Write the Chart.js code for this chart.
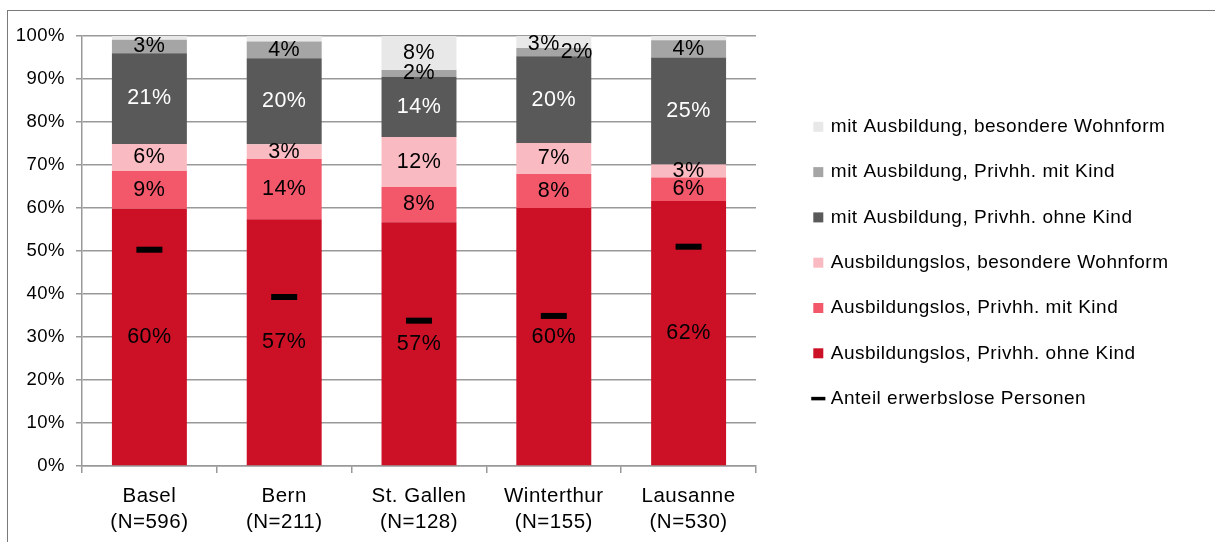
<!DOCTYPE html>
<html>
<head>
<meta charset="utf-8">
<script src="https://cdn.jsdelivr.net/npm/chart.js@4.4.1/dist/chart.umd.min.js"></script>
<style>
  body { margin: 0; background: #fff; }
  #frame {
    position: absolute; left: 7px; top: 10px;
    width: 1208px; height: 532px;
    border-top: 1px solid #7a7a7a; border-left: 1px solid #7a7a7a;
  }
  #wrap { position: absolute; left: 0; top: 0; width: 1207px; height: 531px; }
</style>
</head>
<body>
<div id="frame"><div id="wrap"><canvas id="chart"></canvas></div></div>
<script>
// data
const cities = [["Basel", "(N=596)"], ["Bern", "(N=211)"], ["St. Gallen", "(N=128)"], ["Winterthur", "(N=155)"], ["Lausanne", "(N=530)"]];

const seriesNames = [
  "Ausbildungslos, Privhh. ohne Kind",
  "Ausbildungslos, Privhh. mit Kind",
  "Ausbildungslos, besondere Wohnform",
  "mit Ausbildung, Privhh. ohne Kind",
  "mit Ausbildung, Privhh. mit Kind",
  "mit Ausbildung, besondere Wohnform"
];
const lohneKind = [59.8, 57.4, 56.7, 60.0, 61.6];
const lmitKind  = [8.8, 14.0, 8.2, 7.9, 5.5];
const lbesonder = [6.3, 3.4, 11.6, 7.2, 3.0];
const mohneKind = [21.1, 20.0, 14.0, 20.2, 24.9];
const mmitKind  = [3.1, 3.9, 1.6, 1.9, 4.0];
const mbesonder = [0.9, 1.3, 7.9, 2.8, 1.0];
const erwerbslos = [50.3, 39.3, 33.8, 34.9, 51.0];
const lineName = "Anteil erwerbslose Personen";

const yTicks = [0, 10, 20, 30, 40, 50, 60, 70, 80, 90, 100];

const barColors = ["#cc1127", "#f2576a", "#f9bac1", "#595959", "#a5a5a5", "#e8e8e8"];
const labelColors = ["#000", "#000", "#000", "#fff", "#000", "#000"];
const FONT = "'Liberation Sans', Arial, sans-serif";

const barData = [lohneKind, lmitKind, lbesonder, mohneKind, mmitKind, mbesonder];

const datasets = barData.map((vals, i) => ({
  type: "bar",
  label: seriesNames[i],
  data: vals,
  backgroundColor: barColors[i],
  borderWidth: 0,
  pointStyle: "rect",
  categoryPercentage: 1,
  barPercentage: 0.556,
  stack: "s"
}));
datasets.push({
  type: "line",
  label: lineName,
  data: erwerbslos,
  showLine: false,
  pointStyle: "line",
  pointRadius: 13,
  pointHoverRadius: 13,
  pointBorderWidth: 6,
  pointBorderColor: "#000",
  borderColor: "#000",
  backgroundColor: "#000",
  borderWidth: 3,
  order: -1
});

// the text in the original is a bit wider than Arial, so spread letters slightly
const spacing = {
  id: "spacing",
  beforeUpdate(chart) { chart.ctx.letterSpacing = "0.5px"; },
  beforeDraw(chart) { chart.ctx.letterSpacing = "0.5px"; },
  beforeLayout(chart) {
    // fixed legend width so it sits where the original has it
    const lg = chart.legend;
    if (lg && !lg._fixed) {
      const fit = lg.fit;
      lg.fit = function () { fit.call(this); this.width = 420; };
      lg._fixed = true;
    }
  }
};

// segment value labels, drawn in the middle of each bar piece
const segLabels = {
  id: "segLabels",
  afterDatasetsDraw(chart) {
    const ctx = chart.ctx;
    ctx.save();
    ctx.font = "21.5px " + FONT;
    ctx.textAlign = "center";
    ctx.textBaseline = "middle";
    for (let j = 0; j < cities.length; j++) {
      const items = [];
      barData.forEach((vals, i) => {
        if (vals[j] < 1.5) return;
        const el = chart.getDatasetMeta(i).data[j];
        items.push({ x: el.x, y: (el.y + el.base) / 2, text: Math.round(vals[j]) + "%", color: labelColors[i] });
      });
      // move apart labels that would sit on top of each other
      for (let k = 1; k < items.length; k++) {
        if (Math.abs(items[k - 1].y - items[k].y) < 16) {
          items[k - 1].x += 23;
          items[k].x -= 10;
          items[k].y += 2;
        }
      }
      items.forEach(it => {
        ctx.fillStyle = it.color;
        ctx.fillText(it.text, it.x, it.y);
      });
    }
    ctx.restore();
  }
};

const ctx = document.getElementById("chart").getContext("2d");

new Chart(ctx, {
  data: { labels: cities, datasets: datasets },
  plugins: [spacing, segLabels],
  options: {
    responsive: true,
    maintainAspectRatio: false,
    animation: false,
    events: [],
    layout: { padding: { top: 25, right: 6, left: 0, bottom: 0 } },
    plugins: {
      tooltip: { enabled: false },
      legend: {
        position: "right",
        align: "start",
        title: { display: true, text: " ", font: { size: 10, lineHeight: 1 }, padding: { top: 45, bottom: 0 } },
        labels: {
          usePointStyle: true,
          boxWidth: 6,
          boxHeight: 10,
          padding: 26.3,
          color: "#000",
          font: { family: FONT, size: 19 },
          generateLabels(chart) {
            const items = Chart.defaults.plugins.legend.labels.generateLabels(chart);
            items.forEach(it => {
              if (it.datasetIndex === barData.length) it.lineWidth = 3.5;
            });
            return items;
          },
          sort: (a, b) => {
            const r = it => it.datasetIndex === barData.length ? 100 : -it.datasetIndex;
            return r(a) - r(b);
          }
        }
      }
    },
    scales: {
      x: {
        stacked: true,
        offset: true,
        grid: { display: true, drawOnChartArea: false, offset: true, tickLength: 7, color: "#999", lineWidth: 1.5 },
        border: { display: true, color: "#999", width: 1.5 },
        ticks: { color: "#000", font: { family: FONT, size: 20.5, lineHeight: 1.27 }, padding: 10, maxRotation: 0 },
        afterFit(s) { s.height = 76; }
      },
      y: {
        stacked: true,
        min: 0,
        max: 100,
        afterBuildTicks(s) { s.ticks = yTicks.map(v => ({ value: v })); },
        grid: { color: "#999", lineWidth: 1.5, tickLength: 6 },
        border: { display: true, color: "#999", width: 1.5 },
        ticks: { color: "#000", font: { family: FONT, size: 18.5 }, padding: 11, callback: v => v + "%" },
        afterFit(s) { s.width = 74; }
      },
      gap: {
        position: "right",
        grid: { display: false },
        border: { display: false },
        ticks: { display: false },
        afterFit(s) { s.width = 33; }
      }
    }
  }
});
</script>
</body>
</html>
